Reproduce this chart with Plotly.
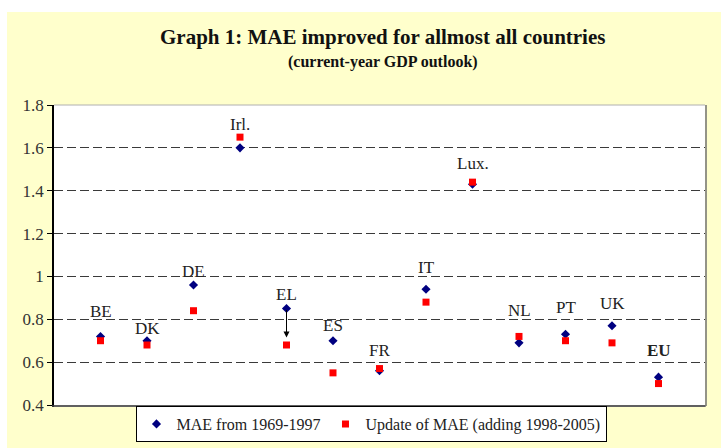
import plotly.graph_objects as go

countries = ["BE", "DK", "DE", "Irl.", "EL", "ES", "FR", "IT", "Lux.", "NL", "PT", "UK", "EU"]
mae_1969_1997 = [0.72, 0.70, 0.96, 1.60, 0.85, 0.70, 0.56, 0.94, 1.43, 0.69, 0.73, 0.77, 0.53]
mae_update = [0.70, 0.68, 0.84, 1.65, 0.68, 0.55, 0.57, 0.88, 1.44, 0.72, 0.70, 0.69, 0.50]
y_ticks = [0.4, 0.6, 0.8, 1.0, 1.2, 1.4, 1.6, 1.8]
y_tick_labels = ["0.4", "0.6", "0.8", "1", "1.2", "1.4", "1.6", "1.8"]

# styling: label offsets (pixels above highest marker)
label_shift = [25, 12, 14, 13, 14, 15, 18, 22, 19, 26, 27, 22, 27]

SERIF = "Liberation Serif, Times New Roman, serif"
x_idx = list(range(1, len(countries) + 1))

L, R, T, B = 54, 16, 105, 43
PW, PH = 721 - L - R, 448 - T - B


def px_x(px):
    return (px - L) / PW


def px_y(py):
    return (448 - B - py) / PH


fig = go.Figure()
fig.add_trace(go.Scatter(
    x=x_idx, y=mae_1969_1997, mode="markers", name="MAE from 1969-1997",
    marker=dict(symbol="diamond", size=7, color="#000080"),
))
fig.add_trace(go.Scatter(
    x=x_idx, y=mae_update, mode="markers", name="Update of MAE (adding 1998-2005)",
    marker=dict(symbol="square", size=7, color="#FF0000"),
))

annotations = []
for i, c in enumerate(countries):
    top = max(mae_1969_1997[i], mae_update[i])
    annotations.append(dict(
        x=x_idx[i], y=top, xref="x", yref="y", text=("<b>%s</b>" % c) if c == "EU" else c,
        showarrow=False, yanchor="middle", yshift=label_shift[i],
        font=dict(family=SERIF, size=17, color="#222222"),
    ))

# arrow for EL
el = countries.index("EL")
annotations.append(dict(
    x=x_idx[el], y=mae_update[el] + 0.035, ax=x_idx[el], ay=mae_1969_1997[el],
    xref="x", yref="y", axref="x", ayref="y", text="", showarrow=True,
    arrowhead=2, arrowsize=1.2, arrowwidth=1, arrowcolor="#000000",
))

annotations.append(dict(
    xref="paper", yref="paper", x=px_x(382.5), y=px_y(37),
    text="<b>Graph 1: MAE improved for allmost all countries</b>", showarrow=False,
    yanchor="middle", xanchor="center", font=dict(family=SERIF, size=21, color="#111111"),
))
annotations.append(dict(
    xref="paper", yref="paper", x=px_x(382.5), y=px_y(62),
    text="<b>(current-year GDP outlook)</b>", showarrow=False,
    yanchor="middle", xanchor="center", font=dict(family=SERIF, size=16, color="#111111"),
))

shapes = [
    # white strips at top and left of the page
    dict(type="rect", xref="paper", yref="paper", x0=px_x(-10), x1=px_x(7),
         y0=px_y(460), y1=px_y(-10), fillcolor="white", line=dict(width=0), layer="above"),
    dict(type="rect", xref="paper", yref="paper", x0=px_x(-10), x1=px_x(730),
         y0=px_y(12), y1=px_y(-10), fillcolor="white", line=dict(width=0), layer="above"),
    # plot frame shadow and frame
    dict(type="line", xref="paper", yref="paper", x0=px_x(706), x1=px_x(706), y0=px_y(406), y1=1,
         line=dict(color="#707070", width=1.5), layer="above"),
    dict(type="line", xref="paper", yref="paper", x0=0, x1=px_x(706), y0=px_y(406), y1=px_y(406),
         line=dict(color="#707070", width=1.5), layer="above"),
    dict(type="line", xref="paper", yref="paper", x0=0, x1=1, y0=1, y1=1,
         line=dict(color="#b0b0b0", width=1), layer="below"),
]

fig.update_layout(
    width=721, height=448,
    margin=dict(l=L, r=R, t=T, b=B, autoexpand=False),
    paper_bgcolor="#FFFFCC",
    plot_bgcolor="white",
    showlegend=True,
    legend=dict(
        orientation="h", x=px_x(371), y=px_y(424),
        xanchor="center", yanchor="middle",
        bgcolor="white", bordercolor="#000000", borderwidth=1,
        font=dict(family=SERIF, size=16, color="#222222"),
        itemwidth=30, tracegroupgap=0,
    ),
    annotations=annotations,
    shapes=shapes,
    xaxis=dict(range=[0, 14], showgrid=False, zeroline=False, showticklabels=False,
               ticks="", showline=True, linecolor="#333333", linewidth=1.5, fixedrange=True),
    yaxis=dict(range=[0.4, 1.8], tickvals=y_ticks, ticktext=y_tick_labels,
               showgrid=True, gridcolor="#3a3a3a", griddash="9px,4px", gridwidth=1,
               zeroline=False, showline=True, linecolor="#000000", linewidth=1.5,
               ticks="outside", ticklen=5, tickcolor="#000000",
               tickfont=dict(family=SERIF, size=17, color="#333333")),
)

fig.write_html("out.html", config={"displayModeBar": False},
               post_script="document.body.style.margin='0px';document.body.style.overflow='hidden';")
